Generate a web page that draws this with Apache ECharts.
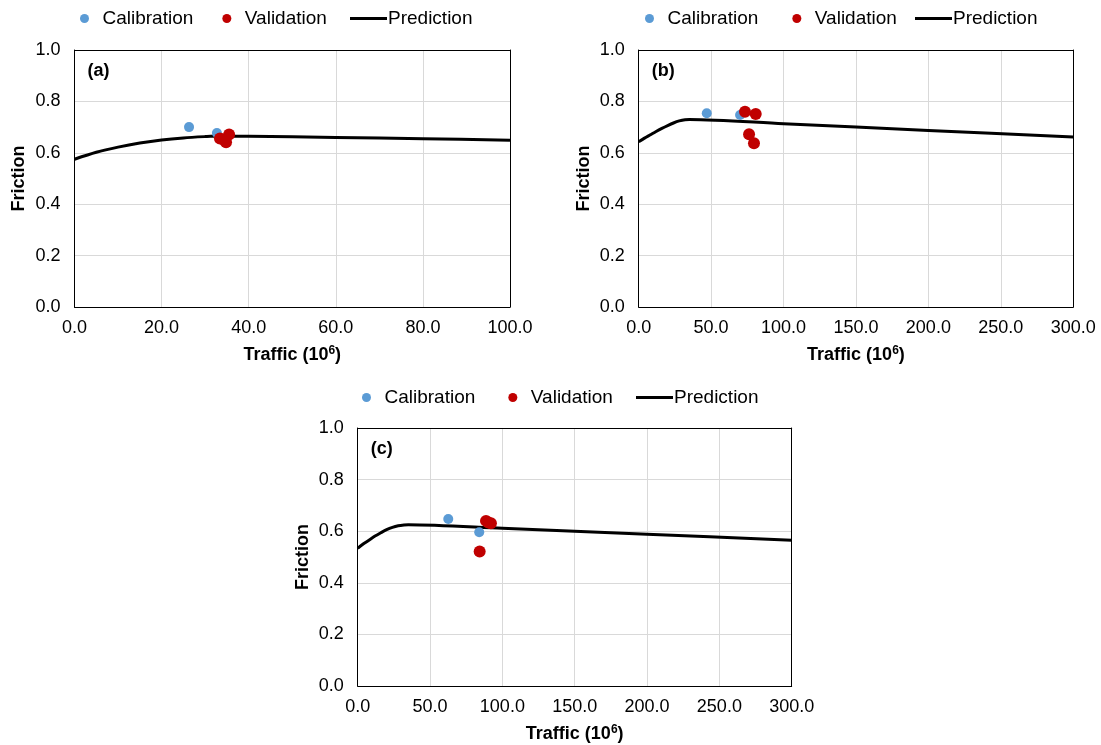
<!DOCTYPE html>
<html>
<head>
<meta charset="utf-8">
<script src="https://cdn.jsdelivr.net/npm/echarts@6/dist/echarts.min.js"></script>
<style>
  html, body { margin: 0; padding: 0; background: #fff; }
  #chart { width: 1101px; height: 745px; }
</style>
</head>
<body>
<div id="chart"></div>
<script>
// Friction vs. cumulative traffic for three sections (a), (b), (c)
const panelLabels = ['(a)', '(b)', '(c)'];
const xMax = [100, 300, 300];
const xStep = [20, 50, 50];
const yTicks = [0, 0.2, 0.4, 0.6, 0.8, 1.0];

// Calibration points [traffic, friction]
const calA = [[26.3, 0.700], [32.7, 0.677]];
const calB = [[47.0, 0.754], [70.0, 0.747]];
const calC = [[62.6, 0.647], [84.0, 0.596]];

// Validation points [traffic, friction]
const valA = [[33.4, 0.656], [34.2, 0.652], [34.8, 0.641], [35.5, 0.671]];
const valB = [[73.4, 0.760], [80.8, 0.751], [76.2, 0.672], [79.6, 0.637]];
const valC = [[88.7, 0.640], [90.3, 0.634], [92.1, 0.631], [84.3, 0.521]];

// Prediction curves [traffic, friction]
const predA = [[0, 0.575], [5, 0.602], [10, 0.622], [15, 0.638], [20, 0.650], [25, 0.658],
               [30, 0.663], [33, 0.665], [40, 0.664], [60, 0.660], [80, 0.655], [100, 0.649]];
const predB = [[0, 0.643], [4, 0.657], [8, 0.670], [12, 0.683], [16, 0.695], [20, 0.706],
               [24, 0.716], [28, 0.724], [32, 0.729], [35, 0.730], [100, 0.713], [200, 0.687], [300, 0.661]];
const predC = [[0, 0.534], [4, 0.551], [8, 0.566], [12, 0.581], [16, 0.594], [20, 0.606],
               [24, 0.615], [28, 0.621], [32, 0.624], [35, 0.625], [100, 0.611], [200, 0.588], [300, 0.565]];

const cal = [calA, calB, calC];
const val = [valA, valB, valC];
const pred = [predA, predB, predC];

const FONT = "'Liberation Sans', Arial, sans-serif";
const BLUE = '#5B9BD5';
const RED = '#C00000';

// plot-area boxes
const grids = [
  { left: 74.5, top: 50, width: 435.5, height: 257 },
  { left: 638.7, top: 50, width: 434.5, height: 257 },
  { left: 357.7, top: 428, width: 434, height: 258 }
];
// legend anchors: first dot centre x, gap between dot items, line start x, row centre y
const legendPos = [
  { dot: 85, gap: 29, line: 350, y: 17 },
  { dot: 650, gap: 34, line: 915, y: 17 },
  { dot: 367, gap: 33, line: 636, y: 396 }
];

const grid = grids.map(g => ({
  left: g.left, top: g.top, width: g.width, height: g.height,
  show: false
}));

const xAxis = [];
const yAxis = [];
grids.forEach((g, i) => {
  xAxis.push({
    gridIndex: i, type: 'value', min: 0, max: xMax[i], interval: xStep[i],
    name: 'Traffic (10{sup|6})', nameLocation: 'middle', nameGap: 38,
    nameTextStyle: {
      fontFamily: FONT, fontSize: 18, fontWeight: 'bold', color: '#000',
      rich: { sup: { fontFamily: FONT, fontSize: 12, fontWeight: 'bold', color: '#000', padding: [0, 0, 8, 0] } }
    },
    axisLine: { show: true, lineStyle: { color: '#000', width: 1 } },
    axisTick: { show: false },
    axisLabel: { fontFamily: FONT, fontSize: 18, color: '#000', margin: 12, formatter: v => v.toFixed(1), showMaxLabel: true },
    splitLine: { show: true, lineStyle: { color: '#d9d9d9', width: 1 } }
  });
  yAxis.push({
    gridIndex: i, type: 'value', min: yTicks[0], max: yTicks[yTicks.length - 1], interval: 0.2,
    name: 'Friction', nameLocation: 'middle', nameGap: 46, nameRotate: 90,
    nameTextStyle: { fontFamily: FONT, fontSize: 18, fontWeight: 'bold', color: '#000' },
    axisLine: { show: true, lineStyle: { color: '#000', width: 1 } },
    axisTick: { show: false },
    axisLabel: { fontFamily: FONT, fontSize: 18, color: '#000', margin: 14, formatter: v => v.toFixed(1) },
    splitLine: { show: true, lineStyle: { color: '#d9d9d9', width: 1 } }
  });
});
// frame on the top and right sides of each plot area
grids.forEach((g, i) => {
  xAxis.push({
    gridIndex: i, type: 'value', position: 'top', min: 0, max: xMax[i], z: 5,
    axisLine: { show: true, onZero: false, lineStyle: { color: '#000', width: 1 } },
    axisTick: { show: false }, axisLabel: { show: false }, splitLine: { show: false }
  });
  yAxis.push({
    gridIndex: i, type: 'value', position: 'right', min: 0, max: 1, z: 5,
    axisLine: { show: true, onZero: false, lineStyle: { color: '#000', width: 1 } },
    axisTick: { show: false }, axisLabel: { show: false }, splitLine: { show: false }
  });
});

const series = [];
for (let i = 0; i < 3; i++) {
  series.push({
    name: 'Calibration', type: 'scatter', xAxisIndex: i, yAxisIndex: i,
    data: cal[i], symbolSize: 10, itemStyle: { color: BLUE, opacity: 1 }, z: 3
  });
  series.push({
    name: 'Validation', type: 'scatter', xAxisIndex: i, yAxisIndex: i,
    data: val[i], symbolSize: 12, itemStyle: { color: RED, opacity: 1 }, z: 4
  });
  series.push({
    name: 'Prediction', type: 'line', xAxisIndex: i, yAxisIndex: i,
    data: pred[i], showSymbol: false, symbol: 'none', smooth: 0.3,
    lineStyle: { color: '#000', width: 3 }, itemStyle: { color: '#000' }, z: 2
  });
}

const legend = [];
legendPos.forEach(p => {
  legend.push({
    left: p.dot - 10, top: p.y - 13, itemWidth: 26, itemHeight: 9, itemGap: p.gap,
    textStyle: { fontFamily: FONT, fontSize: 19, color: '#000' },
    data: [
      { name: 'Calibration', icon: 'circle', itemStyle: { color: BLUE } },
      { name: 'Validation', icon: 'circle', itemStyle: { color: RED } }
    ],
    selectedMode: false
  });
  legend.push({
    left: p.line - 5, top: p.y - 13, itemWidth: 37, itemHeight: 3,
    textStyle: { fontFamily: FONT, fontSize: 19, color: '#000', padding: [0, 0, 0, -4] },
    data: [{ name: 'Prediction', icon: 'rect', itemStyle: { color: '#000' } }],
    selectedMode: false
  });
});

const graphic = grids.map((g, i) => ({
  type: 'text', left: g.left + 13, top: g.top + 12,
  style: { text: panelLabels[i], fontFamily: FONT, fontSize: 18, fontWeight: 'bold', fill: '#000' }
}));

const chart = echarts.init(document.getElementById('chart'), null, { renderer: 'canvas' });
chart.setOption({
  animation: false,
  backgroundColor: '#fff',
  grid, xAxis, yAxis, series, legend, graphic
});
</script>
</body>
</html>
